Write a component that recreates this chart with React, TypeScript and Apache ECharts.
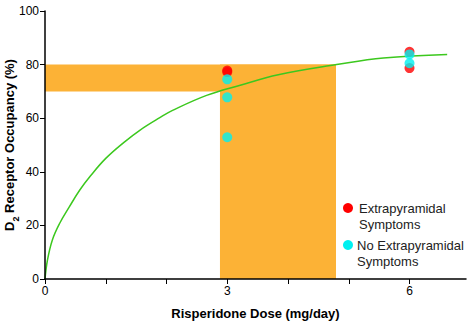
import React, { useEffect, useRef } from "react";
import * as echarts from "echarts";

// Emax-type fit curve
const curveDose = [0, 0.04, 0.12, 0.24, 0.4, 0.57, 0.75, 1.0, 1.3, 1.56, 1.89, 2.1, 2.66, 3.2, 3.84, 4.8, 5.57, 6.62];
const curveOcc = [0, 7, 14.5, 20.7, 26.9, 33.1, 38.5, 45, 51, 55.5, 60.2, 62.9, 68.5, 72.2, 76.2, 80, 82.5, 83.8];

// Patients with extrapyramidal symptoms
const epsDose = [3, 3, 6, 6];
const epsOcc = [77.8, 77.2, 84.8, 78.7];

// Patients without extrapyramidal symptoms
const noEpsDose = [3, 3, 3, 6, 6];
const noEpsOcc = [74.5, 67.8, 52.9, 83.8, 80.5];

// Therapeutic window (orange)
const windowOcc = [70, 80];
const windowDose = [2.88, 4.79];

const xLabels = [0, 3, 6];
const yTicks = [0, 20, 40, 60, 80, 100];

const FONT = "'Liberation Sans', Arial, Helvetica, sans-serif";
const ORANGE = "#FCB236";
const RED = "#FF0000";
const CYAN = "#00F0F0";
const GREEN = "#3CC81E";

export default function App() {
  const ref = useRef<HTMLDivElement>(null);
  useEffect(() => {
    if (!ref.current) return;
    const chart = echarts.init(ref.current, null, { renderer: "svg" });
    chart.setOption({
      animation: false,
      backgroundColor: "#ffffff",
      textStyle: { fontFamily: FONT },
      grid: { left: 45, right: 6, top: 11, bottom: 43, containLabel: false, outerBoundsMode: "none" },
      xAxis: {
        type: "value",
        min: 0,
        max: 6.93,
        interval: 1,
        z: 5,
        name: "Risperidone Dose (mg/day)",
        nameLocation: "middle",
        nameGap: 28,
        nameMoveOverlap: false,
        nameTextStyle: { fontFamily: FONT, fontSize: 13, fontWeight: "bold", color: "#000" },
        axisLine: { show: true, lineStyle: { color: "#000", width: 1.5 } },
        axisTick: { show: true, length: 5, lineStyle: { color: "#000", width: 1 } },
        axisLabel: {
          fontFamily: FONT,
          fontSize: 12,
          color: "#000",
          margin: 6,
          showMaxLabel: false,
          formatter: (v: number) => (xLabels.includes(Math.round(v * 100) / 100) ? String(v) : ""),
        },
        splitLine: { show: false },
      },
      yAxis: {
        type: "value",
        min: yTicks[0],
        max: yTicks[yTicks.length - 1],
        interval: 20,
        z: 5,
        name: "{a|D}{s|2}{a| Receptor Occupancy (%)}",
        nameLocation: "middle",
        nameGap: 29,
        nameMoveOverlap: false,
        nameTextStyle: {
          rich: {
            a: { fontFamily: FONT, fontSize: 13, fontWeight: "bold", color: "#000", lineHeight: 16, verticalAlign: "bottom" },
            s: { fontFamily: FONT, fontSize: 9, fontWeight: "bold", color: "#000", lineHeight: 16, verticalAlign: "bottom", padding: [0, 0, -4, 0] },
          },
        },
        axisLine: { show: true, lineStyle: { color: "#000", width: 1.5 } },
        axisTick: { show: true, length: 5, lineStyle: { color: "#000", width: 1 } },
        axisLabel: { fontFamily: FONT, fontSize: 12, color: "#000", margin: 6 },
        splitLine: { show: false },
      },
      series: [
        {
          type: "line",
          name: "Fit",
          data: curveDose.map((d, i) => [d, curveOcc[i]]),
          smooth: 0.4,
          showSymbol: false,
          z: 3,
          lineStyle: { color: GREEN, width: 1.5 },
          markArea: {
            silent: true,
            itemStyle: { color: ORANGE, opacity: 1 },
            data: [
              [
                { xAxis: 0, yAxis: windowOcc[0] },
                { xAxis: windowDose[1], yAxis: windowOcc[1] },
              ],
              [
                { xAxis: windowDose[0], yAxis: 0 },
                { xAxis: windowDose[1], yAxis: windowOcc[1] },
              ],
            ],
          },
        },
        {
          type: "scatter",
          name: "Extrapyramidal Symptoms",
          data: epsDose.map((d, i) => [d, epsOcc[i]]),
          symbol: "circle",
          symbolSize: 10,
          z: 4,
          itemStyle: { color: RED },
        },
        {
          type: "scatter",
          name: "No Extrapyramidal Symptoms",
          data: noEpsDose.map((d, i) => [d, noEpsOcc[i]]),
          symbol: "circle",
          symbolSize: 10,
          z: 5,
          itemStyle: { color: CYAN },
        },
      ],
      graphic: [
        { type: "circle", shape: { cx: 348, cy: 208, r: 5 }, style: { fill: RED } },
        {
          type: "text",
          x: 359,
          y: 200,
          style: { text: "Extrapyramidal\nSymptoms", font: `13px ${FONT}`, fill: "#222", lineHeight: 16 },
        },
        { type: "circle", shape: { cx: 348, cy: 245, r: 5 }, style: { fill: CYAN } },
        {
          type: "text",
          x: 357,
          y: 237,
          style: { text: "No Extrapyramidal\nSymptoms", font: `13px ${FONT}`, fill: "#222", lineHeight: 16 },
        },
      ],
    });
    return () => chart.dispose();
  }, []);
  return <div ref={ref} style={{ width: 472, height: 322, position: "absolute", left: 0, top: 0 }} />;
}
